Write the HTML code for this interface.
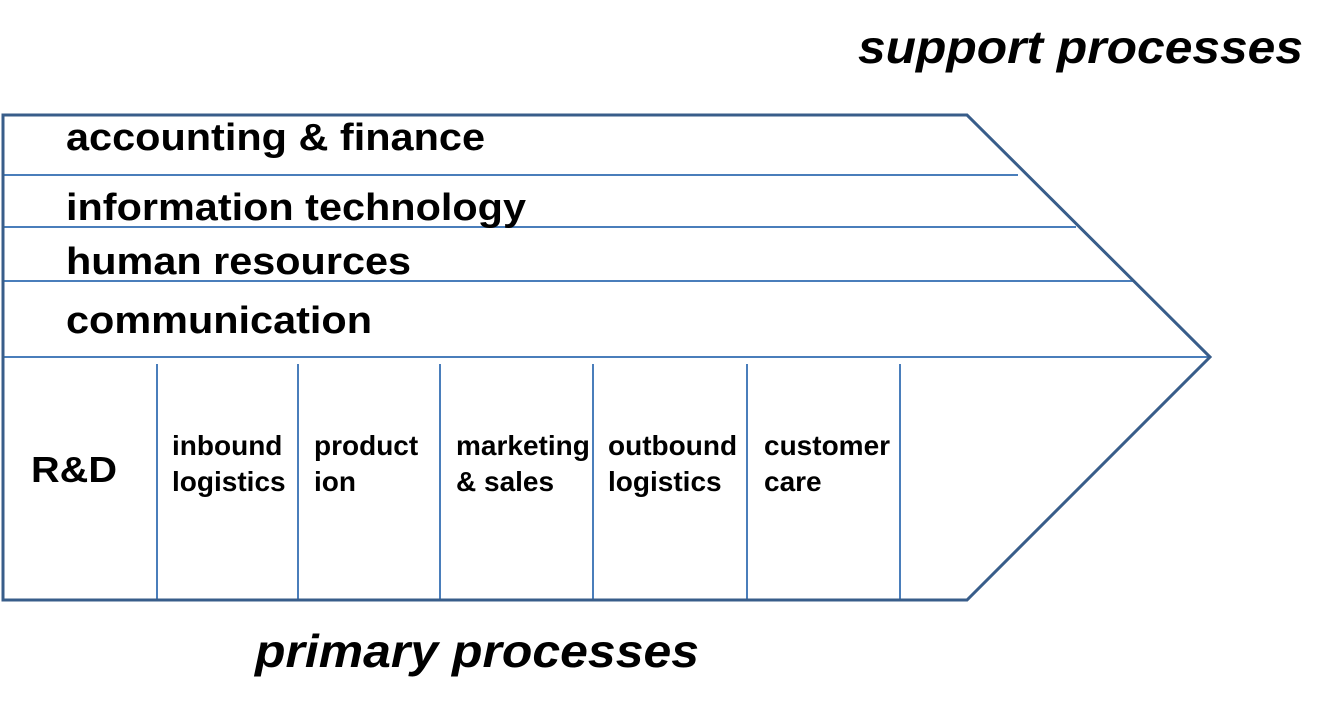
<!DOCTYPE html>
<html><head><meta charset="utf-8"><style>
html,body{margin:0;padding:0;background:#fff;}
svg{display:block;}
text{font-family:"Liberation Sans",Arial,sans-serif;font-weight:bold;fill:#000;}
</style></head><body>
<svg width="1335" height="709" viewBox="0 0 1335 709" xmlns="http://www.w3.org/2000/svg">
<g stroke="#4a7ebb" stroke-width="2" fill="none">
<line x1="3" y1="175" x2="1018" y2="175"/>
<line x1="3" y1="227" x2="1076" y2="227"/>
<line x1="3" y1="281" x2="1134" y2="281"/>
<line x1="3" y1="357" x2="1210" y2="357"/>
<line x1="157" y1="364" x2="157" y2="600"/>
<line x1="298" y1="364" x2="298" y2="600"/>
<line x1="440" y1="364" x2="440" y2="600"/>
<line x1="593" y1="364" x2="593" y2="600"/>
<line x1="747" y1="364" x2="747" y2="600"/>
<line x1="900" y1="364" x2="900" y2="600"/>
</g>
<polygon points="3,115 967,115 1210,357 967,600 3,600" fill="none" stroke="#385d8a" stroke-width="3"/>
<text x="858" y="63" font-size="46" font-style="italic" textLength="445" lengthAdjust="spacingAndGlyphs">support processes</text>
<text x="66" y="150" font-size="38" textLength="419" lengthAdjust="spacingAndGlyphs">accounting &amp; finance</text>
<text x="66" y="220" font-size="38" textLength="460" lengthAdjust="spacingAndGlyphs">information technology</text>
<text x="66" y="274" font-size="38" textLength="345" lengthAdjust="spacingAndGlyphs">human resources</text>
<text x="66" y="333" font-size="38" textLength="306" lengthAdjust="spacingAndGlyphs">communication</text>
<text x="31" y="482" font-size="36" textLength="86" lengthAdjust="spacingAndGlyphs">R&amp;D</text>
<g font-size="28">
<text x="172" y="455">inbound</text><text x="172" y="491">logistics</text>
<text x="314" y="455">product</text><text x="314" y="491">ion</text>
<text x="456" y="455">marketing</text><text x="456" y="491">&amp; sales</text>
<text x="608" y="455">outbound</text><text x="608" y="491">logistics</text>
<text x="764" y="455">customer</text><text x="764" y="491">care</text>
</g>
<text x="255" y="667" font-size="46" font-style="italic" textLength="444" lengthAdjust="spacingAndGlyphs">primary processes</text>
</svg>
</body></html>
